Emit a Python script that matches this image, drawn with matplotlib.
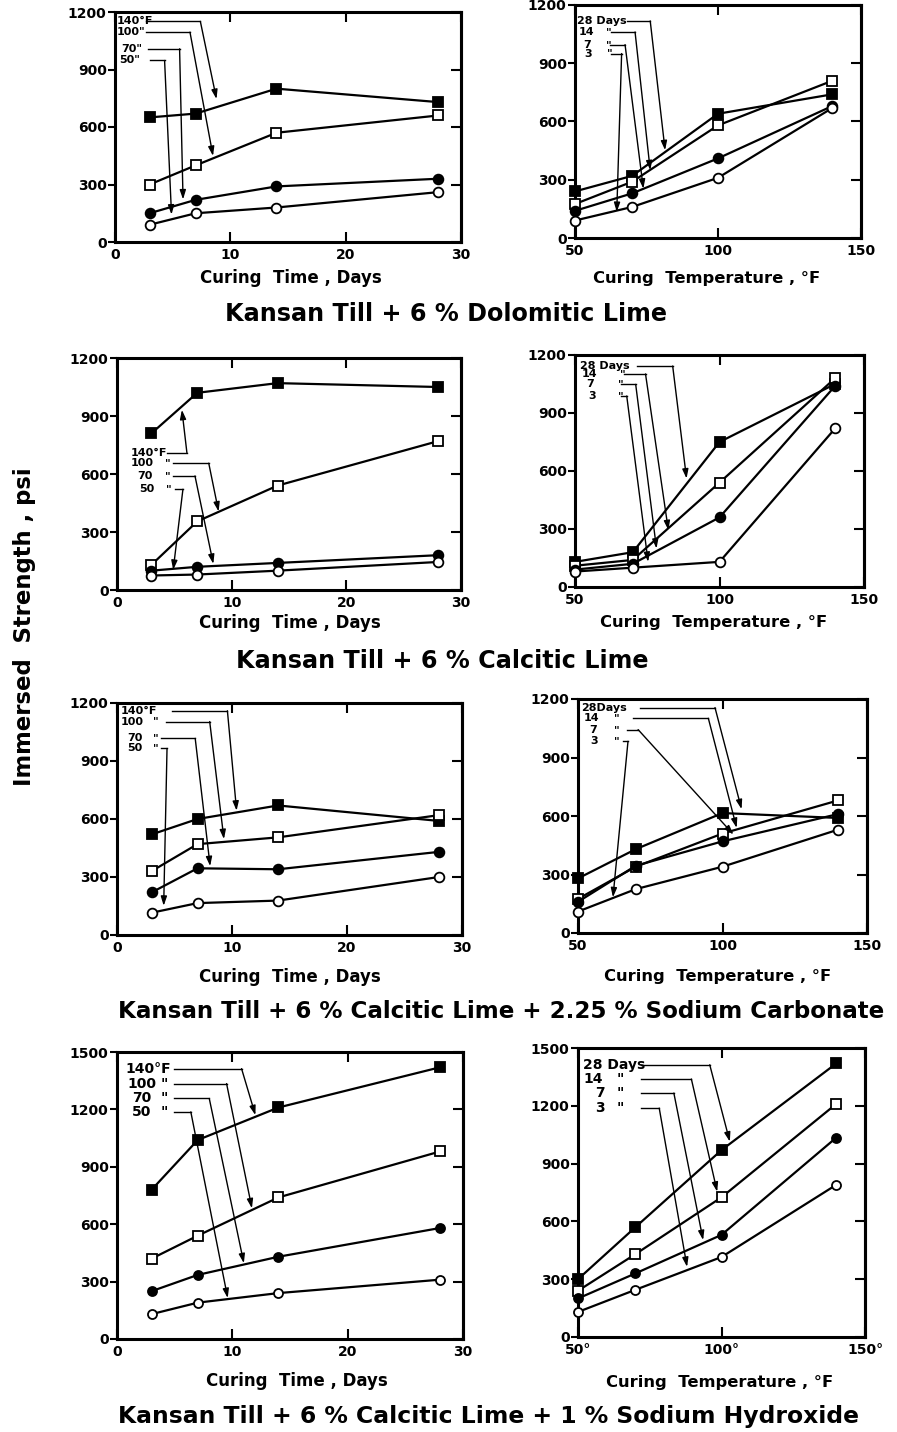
import matplotlib
matplotlib.use('Agg')
import matplotlib.pyplot as plt

plt.rcParams['font.family'] = ['DejaVu Sans']
plt.rcParams['font.weight'] = 'bold'

# ---------------- data ----------------
days = [3, 7, 14, 28]
temps = [50, 70, 100, 140]

time_ticks = [0, 10, 20, 30]
temp_ticks = [50, 100, 150]
temp_ticklabels_plain = ['50', '100', '150']
temp_ticklabels_deg = ['50°', '100°', '150°']
y_ticks_1200 = [0, 300, 600, 900, 1200]
y_ticks_1500 = [0, 300, 600, 900, 1200, 1500]

titles = ['Kansan Till + 6 % Dolomitic Lime',
          'Kansan Till + 6 % Calcitic Lime',
          'Kansan Till + 6 % Calcitic Lime + 2.25 % Sodium Carbonate',
          'Kansan Till + 6 % Calcitic Lime + 1 % Sodium Hydroxide']

# Row 1: Dolomitic lime
dolo_time_140F = [650, 670, 800, 730]
dolo_time_100F = [300, 400, 570, 660]
dolo_time_70F = [150, 220, 290, 330]
dolo_time_50F = [90, 150, 180, 260]
dolo_temp_28d = [240, 320, 640, 740]
dolo_temp_14d = [175, 290, 580, 810]
dolo_temp_7d = [140, 230, 410, 680]
dolo_temp_3d = [90, 160, 310, 670]

# Row 2: Calcitic lime
calc_time_140F = [810, 1020, 1070, 1050]
calc_time_100F = [130, 355, 540, 770]
calc_time_70F = [100, 120, 140, 180]
calc_time_50F = [75, 80, 100, 145]
calc_temp_28d = [130, 180, 750, 1050]
calc_temp_14d = [110, 140, 540, 1080]
calc_temp_7d = [90, 120, 360, 1040]
calc_temp_3d = [80, 100, 130, 820]

# Row 3: Calcitic lime + 2.25% sodium carbonate
carb_time_140F = [520, 600, 670, 590]
carb_time_100F = [330, 470, 505, 620]
carb_time_70F = [220, 345, 340, 430]
carb_time_50F = [115, 165, 178, 300]
carb_temp_28d = [280, 430, 615, 590]
carb_temp_14d = [175, 340, 510, 680]
carb_temp_7d = [160, 345, 470, 610]
carb_temp_3d = [110, 225, 340, 530]

# Row 4: Calcitic lime + 1% sodium hydroxide
hydr_time_140F = [780, 1040, 1210, 1420]
hydr_time_100F = [420, 540, 740, 980]
hydr_time_70F = [250, 335, 430, 580]
hydr_time_50F = [130, 190, 240, 310]
hydr_temp_28d = [300, 570, 970, 1420]
hydr_temp_14d = [240, 430, 725, 1210]
hydr_temp_7d = [200, 330, 530, 1035]
hydr_temp_3d = [130, 245, 415, 790]

# ---------------- styling / layout ----------------
W, H = 897, 1432
fig = plt.figure(figsize=(W / 100, H / 100), dpi=100)


def px_axes(x0, y0, x1, y1):
    return fig.add_axes([x0 / W, 1 - y1 / H, (x1 - x0) / W, (y1 - y0) / H])


marker_styles = [dict(marker='s', mfc='black'),
                 dict(marker='s', mfc='white'),
                 dict(marker='o', mfc='black'),
                 dict(marker='o', mfc='white')]


def style_axes(ax, xt, yt, xlim, ylim, xtl=None):
    ax.set_xlim(*xlim)
    ax.set_ylim(*ylim)
    ax.set_xticks(xt)
    if xtl is not None:
        ax.set_xticklabels(xtl)
    ax.set_yticks(yt)
    ax.tick_params(axis='x', direction='in', top=True, length=7, width=1.5,
                   labelsize=10, pad=4.5)
    ax.tick_params(axis='y', direction='out', length=5, width=1.5,
                   labelsize=10, pad=1)
    sec = ax.secondary_yaxis('right')
    sec.set_yticks(yt)
    sec.tick_params(direction='in', length=7, width=1.5, labelright=False)
    for s in ax.spines.values():
        s.set_linewidth(2.2)
    sec.spines['right'].set_linewidth(2.2)


def draw_series(ax, x, series, ms):
    for vals, st in zip(series, marker_styles):
        ax.plot(x, vals, color='black', lw=1.6, ms=ms, mec='black', mew=1.3,
                clip_on=False, zorder=3, **st)


def annotate(ax, items, fs):
    # items: (label, text_x, ditto_x, y, line_x0, corner_x, tip_x, tip_y)
    for lab, tx, dx, y, lx0, cx, tipx, tipy in items:
        ax.text(tx, y, lab, ha='left', va='center', fontsize=fs, zorder=5)
        if dx is not None:
            ax.text(dx, y, '"', ha='left', va='center', fontsize=fs, zorder=5)
        ax.plot([lx0, cx], [y, y], color='black', lw=1.0, zorder=4)
        ax.annotate('', xy=(tipx, tipy), xytext=(cx, y),
                    arrowprops=dict(arrowstyle='-|>,head_length=0.55,head_width=0.18',
                                    lw=1.0, color='black', shrinkA=0, shrinkB=0),
                    zorder=4)


# panel geometry (pixels)
boxes = [(115, 12, 461, 242), (575, 5, 861, 238),
         (117, 358, 461, 590), (575, 355, 864, 587),
         (117, 703, 462, 935), (578, 699, 867, 933),
         (117, 1052, 463, 1339), (578, 1048, 865, 1337)]

time_series = [[dolo_time_140F, dolo_time_100F, dolo_time_70F, dolo_time_50F],
               [calc_time_140F, calc_time_100F, calc_time_70F, calc_time_50F],
               [carb_time_140F, carb_time_100F, carb_time_70F, carb_time_50F],
               [hydr_time_140F, hydr_time_100F, hydr_time_70F, hydr_time_50F]]
temp_series = [[dolo_temp_28d, dolo_temp_14d, dolo_temp_7d, dolo_temp_3d],
               [calc_temp_28d, calc_temp_14d, calc_temp_7d, calc_temp_3d],
               [carb_temp_28d, carb_temp_14d, carb_temp_7d, carb_temp_3d],
               [hydr_temp_28d, hydr_temp_14d, hydr_temp_7d, hydr_temp_3d]]

time_ann = [
    [('140°F', 0.15, None, 1151, 2.7, 7.4, 8.8, 746),
     ('100"', 0.15, None, 1095, 2.7, 6.5, 8.5, 449),
     ('70"', 0.55, None, 1008, 2.9, 5.6, 5.9, 222),
     ('50"', 0.4, None, 947, 3.0, 4.3, 4.9, 143)],
    [('140°F', 1.16, None, 708, 4.4, 6.1, 5.66, 932),
     ('100', 1.16, 4.2, 656, 4.9, 8.0, 8.86, 406),
     ('70', 1.74, 4.2, 590, 4.9, 6.8, 8.4, 135),
     ('50', 1.9, 4.3, 521, 5.1, 5.75, 4.9, 104)],
    [('140°F', 0.3, None, 1160, 4.8, 9.6, 10.4, 643),
     ('100', 0.3, 3.1, 1104, 4.3, 8.06, 9.3, 496),
     ('70', 0.9, 3.1, 1017, 3.8, 6.8, 8.1, 356),
     ('50', 0.9, 3.1, 965, 3.8, 4.35, 4.06, 151)],
    [('140°F', 0.72, None, 1413, 4.9, 10.8, 12.0, 1170),
     ('100', 0.87, 3.75, 1335, 4.9, 9.5, 11.7, 683),
     ('70', 1.3, 3.75, 1257, 4.9, 8.0, 11.0, 396),
     ('50', 1.3, 3.75, 1187, 4.9, 6.4, 9.6, 214)],
]
temp_ann = [
    [('28 Days', 50.6, None, 1118, 68.2, 76.3, 81.5, 452),
     ('14', 51.2, 61.0, 1061, 62.5, 71.0, 76.3, 349),
     ('7', 53.0, 61.0, 996, 62.3, 67.5, 73.9, 254),
     ('3', 53.2, 61.1, 950, 62.5, 66.3, 64.6, 134)],
    [('28 Days', 51.7, None, 1143, 71.3, 83.8, 88.6, 561),
     ('14', 52.3, 65.5, 1102, 67.0, 74.4, 82.3, 294),
     ('7', 54.0, 65.0, 1048, 66.0, 71.0, 78.2, 199),
     ('3', 54.5, 64.8, 988, 65.8, 67.9, 75.3, 130)],
    [('28Days', 51.2, None, 1156, 71.4, 97.4, 106.6, 635),
     ('14', 52.0, 62.5, 1101, 69.1, 95.1, 104.9, 539),
     ('7', 54.0, 62.3, 1043, 66.8, 70.8, 103.8, 505),
     ('3', 54.3, 62.3, 983, 65.5, 67.3, 62.1, 183)],
    [('28 Days', 51.7, None, 1413, 72.1, 95.9, 102.9, 1014),
     ('14', 52.0, 63.4, 1339, 72.1, 89.5, 98.5, 754),
     ('7', 56.0, 63.4, 1266, 72.1, 83.4, 93.6, 503),
     ('3', 56.0, 63.4, 1188, 72.1, 78.3, 88.0, 364)],
]

ylims = [1200, 1200, 1200, 1500]
yticks_rows = [y_ticks_1200, y_ticks_1200, y_ticks_1200, y_ticks_1500]
ann_fs = [8, 8, 8, 10]
msizes = [7, 7, 7, 6.5]
title_fs = [17.2, 17.2, 16.6, 16.9]

xlabel_pos = [((291, 278), (707, 278)),
              ((290, 623), (714, 623)),
              ((290, 977), (718, 977)),
              ((297, 1381), (720, 1382))]
title_pos = [(446, 314), (442, 661), (501, 1012), (488, 1417)]

for r in range(4):
    axL = px_axes(*boxes[2 * r])
    axR = px_axes(*boxes[2 * r + 1])
    style_axes(axL, time_ticks, yticks_rows[r], (0, 30), (0, ylims[r]))
    style_axes(axR, temp_ticks, yticks_rows[r], (50, 150), (0, ylims[r]),
               xtl=temp_ticklabels_deg if r == 3 else temp_ticklabels_plain)
    draw_series(axL, days, time_series[r], msizes[r])
    draw_series(axR, temps, temp_series[r], msizes[r])
    annotate(axL, time_ann[r], ann_fs[r])
    annotate(axR, temp_ann[r], ann_fs[r])
    (lx, ly), (rx, ry) = xlabel_pos[r]
    fig.text(lx / W, 1 - ly / H, 'Curing  Time , Days', ha='center', va='center',
             fontsize=12)
    fig.text(rx / W, 1 - ry / H, 'Curing  Temperature , °F', ha='center',
             va='center', fontsize=11.8)
    tx, ty = title_pos[r]
    fig.text(tx / W, 1 - ty / H, titles[r], ha='center', va='center',
             fontsize=title_fs[r])

fig.text(25 / W, 1 - 627 / H, 'Immersed  Strength , psi', rotation=90,
         ha='center', va='center', fontsize=16.4)

fig.savefig('out.png', dpi=100)
